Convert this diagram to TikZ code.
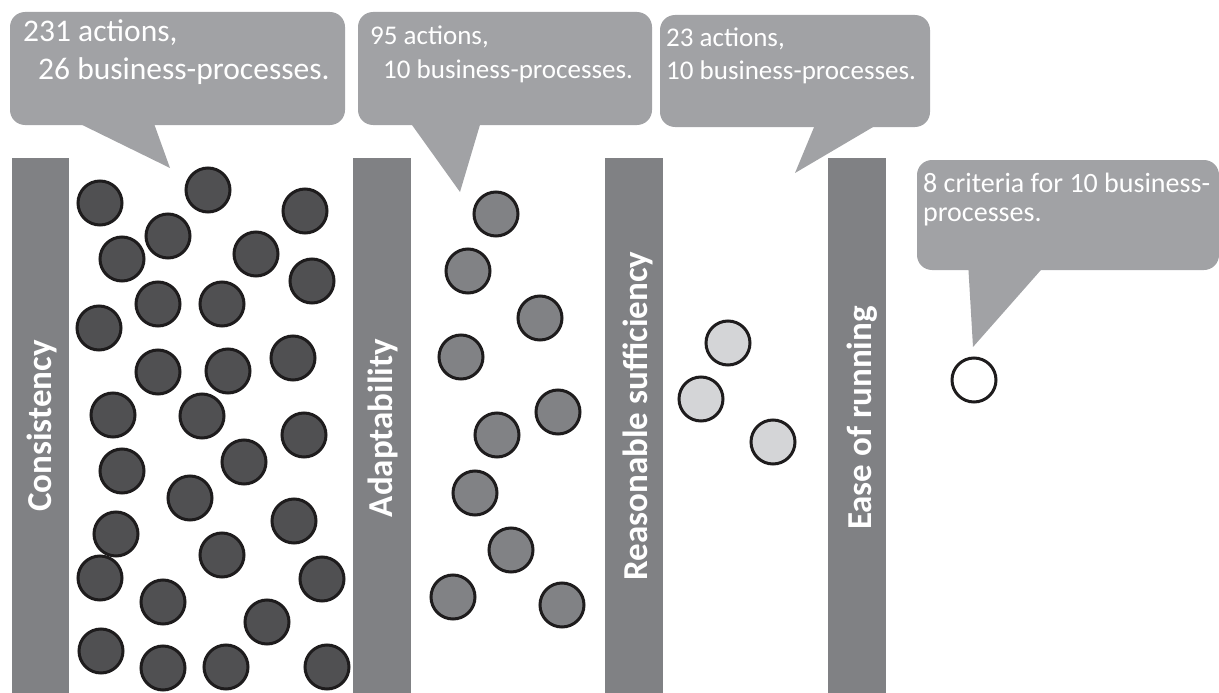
\documentclass[tikz,border=0pt]{standalone}
\usepackage{fontspec}
\setmainfont{Carlito}
\begin{document}
\begin{tikzpicture}[x=1pt,y=-1pt,
  bar/.style={fill=barc, draw=none},
  barlabel/.style={rotate=90, anchor=base, text=white, font=\fontsize{35}{40}\selectfont\bfseries, inner sep=0pt},
  callout/.style={fill=callc, draw=none, rounded corners=15pt},
  tip/.style={fill=callc, draw=none},
  ctext/.style={anchor=base west, text=white, inner sep=0pt},
  cbig/.style={ctext, font=\fontsize{31.5}{36}\selectfont},
  csmall/.style={ctext, font=\fontsize{27}{32}\selectfont},
  cfour/.style={ctext, font=\fontsize{28}{32}\selectfont},
  dot/.style={circle, minimum size=44pt, inner sep=0pt, line width=3pt, draw=dotline},
  dotA/.style={dot, fill=dotA},
  dotB/.style={dot, fill=dotB},
  dotC/.style={dot, fill=dotC},
  dotD/.style={dot, fill=white},
]
\definecolor{barc}{HTML}{808184}
\definecolor{callc}{HTML}{A1A2A5}
\definecolor{dotline}{HTML}{1E1C1D}
\definecolor{dotA}{HTML}{505052}
\definecolor{dotB}{HTML}{818285}
\definecolor{dotC}{HTML}{D4D5D7}
\useasboundingbox (0,0) rectangle (1219,693);

% bars
\fill[bar] (12,158) rectangle (69,693);
\fill[bar] (353,158) rectangle (411,693);
\fill[bar] (605,158) rectangle (663,693);
\fill[bar] (828,158) rectangle (886,693);
\node[barlabel] (l1) at (51,426) {Consistency};
\node[barlabel] (l2) at (392,428) {Adaptability};
\node[barlabel] (l3) at (647,416) {Reasonable sufficiency};
\node[barlabel] (l4) at (871,418) {Ease of running};

% callouts
\fill[callout] (10,12) rectangle (345,125);
\fill[tip] (68,118) -- (170,168) -- (152,118) -- cycle;
\fill[callout] (358,12) rectangle (652,125);
\fill[tip] (407,118) -- (460,192) -- (482,118) -- cycle;
\fill[callout] (660,15) rectangle (930,127);
\fill[tip] (817,120) -- (795,173) -- (885,120) -- cycle;
\fill[callout] (917,160) rectangle (1219,270);
\fill[tip] (968,262) -- (973,347) -- (1048,262) -- cycle;

\node[cbig] (t1a) at (23,42) {231 actions,};
\node[cbig] (t1b) at (38,80) {26 business-processes.};
\node[csmall] (t2a) at (370,45) {95 actions,};
\node[csmall] (t2b) at (383,78) {10 business-processes.};
\node[csmall] (t3a) at (666,47) {23 actions,};
\node[csmall] (t3b) at (666,80) {10 business-processes.};
\node[cfour] (t4a) at (923,192) {8 criteria for 10 business-};
\node[cfour] (t4b) at (923,221) {processes.};

% column 1
\foreach \x/\y [count=\i] in {100/203,208/190,305/211,168/236,122/259,256/254,312/281,158/304,222/304,99/328,293/358,158/372,228/371,113/415,202/416,304/435,122/471,244/462,190/498,116/534,294/521,222/555,100/578,163/602,322/579,267/622,101/651,163/668,226/667,327/667}
  \node[dotA] (a\i) at (\x,\y) {};
% column 2
\foreach \x/\y [count=\i] in {496/214,468/271,540/318,461/357,558/412,497/435,475/493,511/550,453/597,562/605}
  \node[dotB] (b\i) at (\x,\y) {};
% column 3
\foreach \x/\y [count=\i] in {728/343,701/399,773/442}
  \node[dotC] (c\i) at (\x,\y) {};
% column 4
\node[dotD] (d1) at (974,380) {};
\end{tikzpicture}
\end{document}
